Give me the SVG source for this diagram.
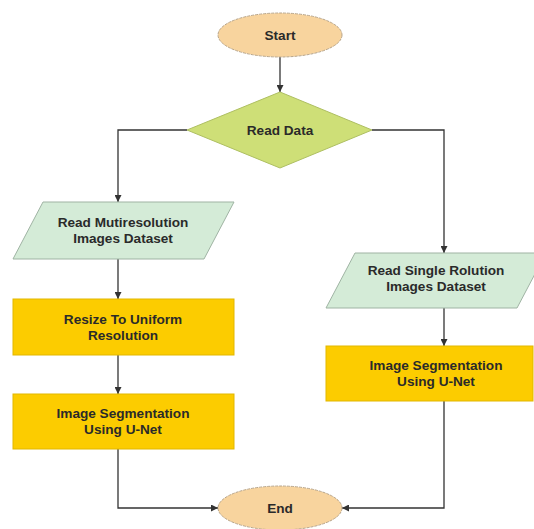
<svg xmlns="http://www.w3.org/2000/svg" width="534" height="529" viewBox="0 0 534 529">
<defs>
<style>
text{font-family:"Liberation Sans",Arial,sans-serif;font-weight:bold;font-size:13.6px;fill:#2a2a2a;text-anchor:middle}
.term{fill:#F8D49E;stroke:#B8A58A;stroke-width:1;stroke-dasharray:3 1}
.dec{fill:#CEDF77;stroke:#AEBF62;stroke-width:1}
.io{fill:#D4EBD7;stroke:#9FB3A3;stroke-width:1}
.proc{fill:#FCCC00;stroke:#E2B700;stroke-width:1}
.con{fill:none;stroke:#333;stroke-width:1.3}
</style>
<marker id="ah" viewBox="0 0 10 10" refX="10" refY="5" markerWidth="7" markerHeight="7" markerUnits="userSpaceOnUse" orient="auto">
<path d="M0,0 L10,5 L0,10 z" fill="#333"/>
</marker>
</defs>
<rect width="534" height="529" fill="#fff"/>
<g id="connectors">
<path class="con" d="M280,57 V92" marker-end="url(#ah)"/>
<path class="con" d="M187,130 H118 V202" marker-end="url(#ah)"/>
<path class="con" d="M372,130 H444 V253" marker-end="url(#ah)"/>
<path class="con" d="M118,259 V299" marker-end="url(#ah)"/>
<path class="con" d="M118,355 V394" marker-end="url(#ah)"/>
<path class="con" d="M444,308 V346" marker-end="url(#ah)"/>
<path class="con" d="M118,449 V508 H218" marker-end="url(#ah)"/>
<path class="con" d="M444,401 V508 H342" marker-end="url(#ah)"/>
</g>
<g id="start">
<ellipse class="term" cx="280" cy="35" rx="62" ry="22"/>
<text x="280" y="40">Start</text>
</g>
<g id="read-data">
<polygon class="dec" points="280,92 372,130 280,168 187,130"/>
<text x="280" y="135">Read Data</text>
</g>
<g id="read-multi">
<polygon class="io" points="43,202 234,202 204,259 13,259"/>
<text x="123" y="227">Read Mutiresolution</text>
<text x="123" y="243">Images Dataset</text>
</g>
<g id="resize">
<rect class="proc" x="13" y="299" width="221" height="56"/>
<text x="123" y="324">Resize To Uniform</text>
<text x="123" y="340">Resolution</text>
</g>
<g id="seg-left">
<rect class="proc" x="13" y="394" width="221" height="55"/>
<text x="123" y="418">Image Segmentation</text>
<text x="123" y="434">Using U-Net</text>
</g>
<g id="read-single">
<polygon class="io" points="355,253 546,253 517,308 326,308"/>
<text x="436" y="275">Read Single Rolution</text>
<text x="436" y="291">Images Dataset</text>
</g>
<g id="seg-right">
<rect class="proc" x="326" y="346" width="207" height="55"/>
<text x="436" y="370">Image Segmentation</text>
<text x="436" y="386">Using U-Net</text>
</g>
<g id="end">
<ellipse class="term" cx="280" cy="508" rx="62" ry="22"/>
<text x="280" y="513">End</text>
</g>
</svg>
